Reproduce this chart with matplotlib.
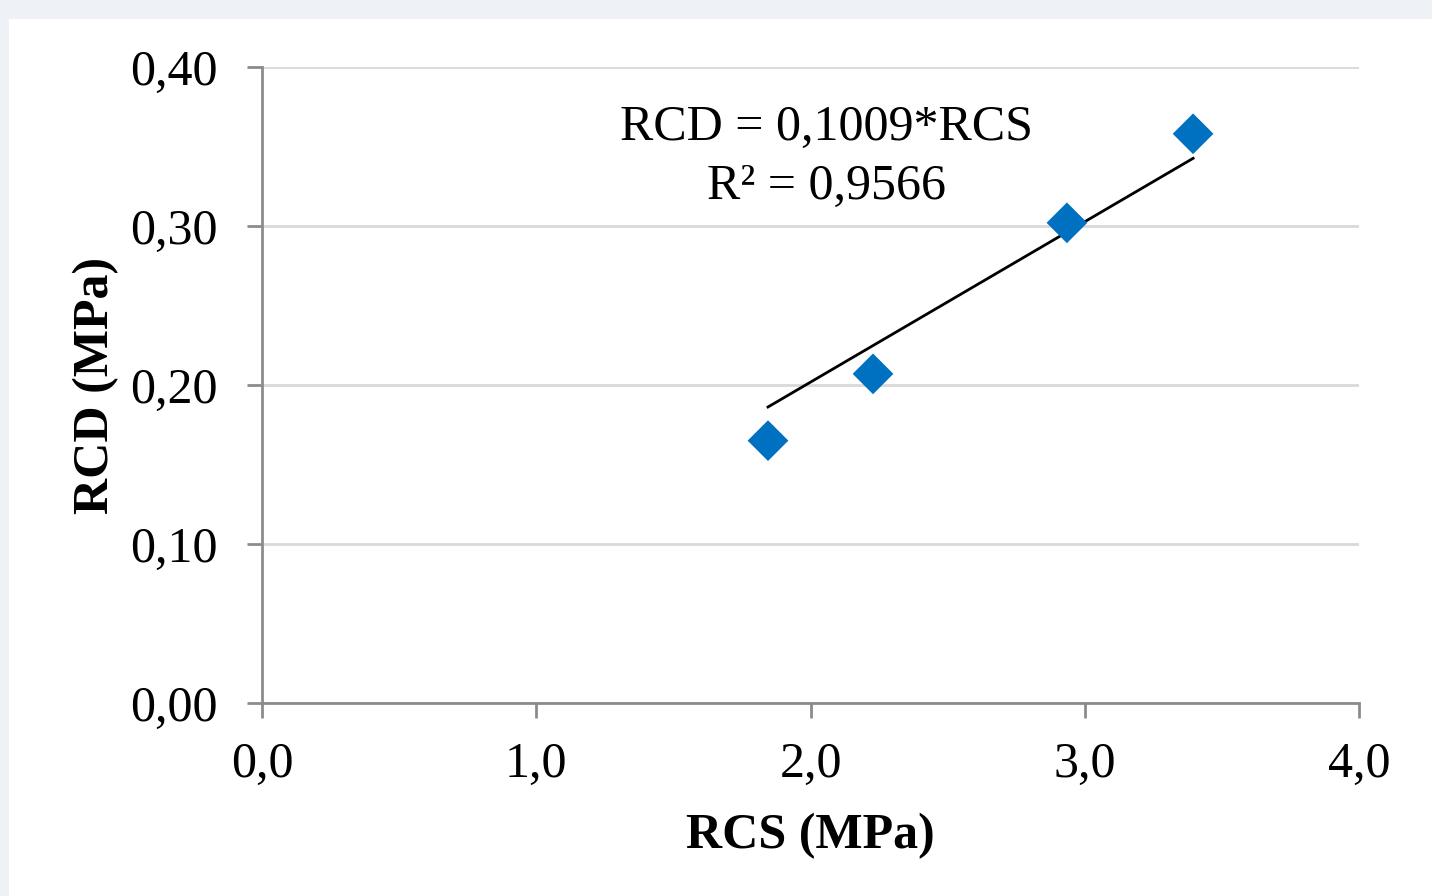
import matplotlib
matplotlib.use("Agg")
import matplotlib.pyplot as plt
import numpy as np
from matplotlib.patches import Rectangle

rcs = [1.845, 2.228, 2.935, 3.395]
rcd = [0.165, 0.207, 0.302, 0.358]
slope = 0.1009
xticks = [0.0, 1.0, 2.0, 3.0, 4.0]
xtick_labels = ["0,0", "1,0", "2,0", "3,0", "4,0"]
yticks = [0.0, 0.1, 0.2, 0.3, 0.4]
ytick_labels = ["0,00", "0,10", "0,20", "0,30", "0,40"]

plt.rcParams['font.family'] = ['Liberation Serif', 'DejaVu Serif']

W, H = 1432, 896
fig = plt.figure(figsize=(W/100, H/100), dpi=100, facecolor='#eef2f7')
bg = Rectangle((9/W, 0), 1 - 9/W, 1 - 19/H, transform=fig.transFigure,
               facecolor='white', edgecolor='none', zorder=-10)
fig.add_artist(bg)

ax = fig.add_axes([262/W, 193/H, (1359-262)/W, (703-67)/H])
ax.set_zorder(5)
ax.set_facecolor('none')
ax.set_xlim(0, 4)
ax.set_ylim(0, 0.4)

ax.grid(axis='y', color='#d9d9d9', linewidth=2)
ax.set_axisbelow(True)
for s in ['top', 'right']:
    ax.spines[s].set_visible(False)
for s in ['left', 'bottom']:
    ax.spines[s].set_color('#8c8c8c')
    ax.spines[s].set_linewidth(2)

ax.set_xticks(xticks)
ax.set_xticklabels(xtick_labels)
ax.set_yticks(yticks)
ax.set_yticklabels(ytick_labels)
ax.tick_params(axis='both', colors='#8c8c8c', labelcolor='black', length=11, width=2, labelsize=36)
ax.tick_params(axis='y', pad=21)
ax.tick_params(axis='x', pad=17)

xs = np.array([min(rcs), max(rcs)])
ax.plot(xs, slope * xs, color='black', linewidth=2, zorder=3)
ax.scatter(rcs, rcd, marker='D', s=430, color='#0070c0', edgecolors='none', zorder=4)

ax.text(2.06, 0.362, "RCD = 0,1009*RCS", fontsize=36, ha='center', va='center')
ax.text(2.06, 0.325, "R² = 0,9566", fontsize=36, ha='center', va='center')

ax.set_xlabel("RCS (MPa)", fontsize=36, fontweight='bold', labelpad=18)
ax.set_ylabel("RCD (MPa)", fontsize=36, fontweight='bold', labelpad=8)

fig.savefig("out.png", dpi=100, facecolor=fig.get_facecolor())
